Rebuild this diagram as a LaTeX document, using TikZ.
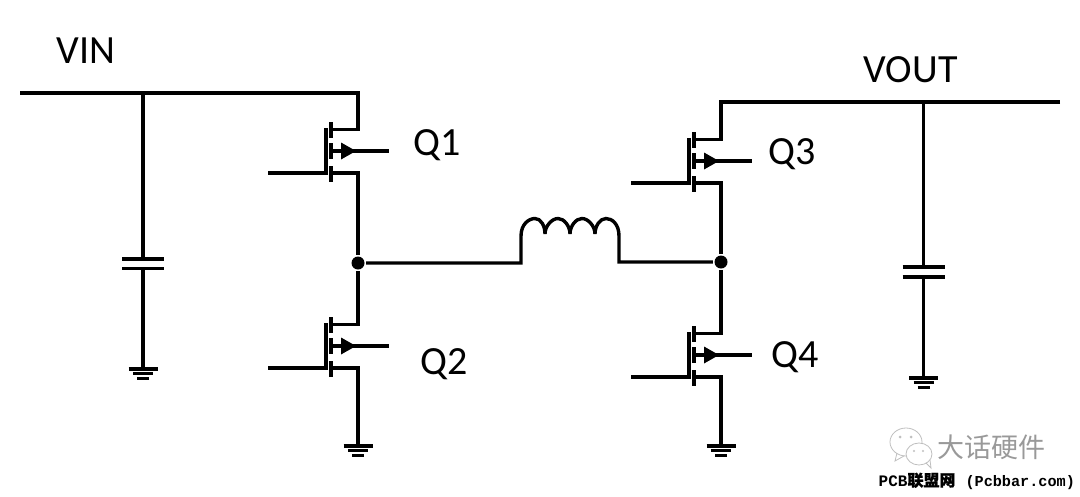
\documentclass[tikz,border=0pt]{standalone}
\usepackage{fontspec}
\setmainfont{Carlito}
\newfontfamily\cjkfont{Noto Sans CJK SC}
\newfontfamily\markfont{Liberation Mono}
\newfontfamily\cjkbold[FakeBold=1]{Noto Sans CJK SC}
\usetikzlibrary{positioning}

\begin{document}
\begin{tikzpicture}[x=1pt,y=-1pt,line width=3.4pt]
    \tikzset{wire/.style = {draw=black,line width=3.4pt}}
    \tikzset{label/.style = {font=\fontsize{40}{40}\selectfont,inner sep=0pt,anchor=west}}
    \tikzset{plate/.style = {draw=black,line width=3.4pt}}
    \tikzset{junction/.style = {shape=circle,fill=black,minimum size=13pt,inner sep=0pt}}
    \tikzset{pics/mosfet/.style = {code = {
        \coordinate (-d) at (0,-21.5);
        \coordinate (-s) at (0,22);
        \coordinate (-g) at (-90,22);
        \coordinate (-b) at (30.5,0);
        \draw[wire] (-32,-23) -- (-32,23.7);
        \draw[wire] (-27,-29) -- (-27,-13);
        \draw[wire] (-27,-8) -- (-27,8);
        \draw[wire] (-27,15) -- (-27,31);
        \draw[wire,line cap=rect] (-27,-21.5) -- (-d);
        \draw[wire,line cap=rect] (-27,22) -- (-s);
        \draw[wire] (-27,0) -- (-b);
        \draw[wire] (-g) -- (-32,22);
        \fill (-17,-8.5) -- (-2,0) -- (-17,8.5) -- cycle;
    }}}
    \tikzset{pics/earth/.style = {code = {
        \coordinate (-t) at (0,0);
        \draw[plate] (-14.5,0) -- (14.5,0);
        \draw[plate] (-10,4.7) -- (10,4.7);
        \draw[plate] (-6,9.3) -- (6,9.3);
    }}}
    \useasboundingbox (0,0) rectangle (1080,496);

    \node[label] (vin) at (55,51) {VIN};
    \node[label] (vout) at (862,70) {VOUT};

    \pic (q1) at (358,151) {mosfet};
    \pic (q2) at (358,346) {mosfet};
    \pic (q3) at (721,161) {mosfet};
    \pic (q4) at (721,355) {mosfet};
    \node[label] (q1name) at (412,145) {Q1};
    \node[label] (q2name) at (419,364) {Q2};
    \node[label] (q3name) at (767,154) {Q3};
    \node[label] (q4name) at (770,357) {Q4};

    \node[junction] (swl) at (358,263) {};
    \node[junction] (swr) at (721,262) {};

    \coordinate (vinl) at (20,93);
    \coordinate (vintap) at (143,93);
    \coordinate (voutl) at (721,102);
    \coordinate (vouttap) at (923.5,102);
    \coordinate (voutr) at (1060,102);

    % input capacitor
    \coordinate (c1a) at (143,259);
    \coordinate (c1b) at (143,268.5);
    \pic (gnd1) at (143,369) {earth};
    \draw[plate] (122,259) -- (164,259);
    \draw[plate] (122,268.5) -- (164,268.5);
    \draw[wire] (vintap) -- (c1a);
    \draw[wire] (c1b) -- (gnd1-t);

    % output capacitor
    \coordinate (c2a) at (923.5,267);
    \coordinate (c2b) at (923.5,277);
    \pic (gnd2) at (923.5,378) {earth};
    \draw[plate] (902.5,267) -- (944.5,267);
    \draw[plate] (902.5,277) -- (944.5,277);
    \draw[wire] (vouttap) -- (c2a);
    \draw[wire] (c2b) -- (gnd2-t);

    \pic (gnd3) at (358,446) {earth};
    \pic (gnd4) at (721,446) {earth};

    \draw[wire] (vinl) -| (q1-d);
    \draw[wire] (q1-s) -- (swl);
    \draw[wire] (swl) -- (q2-d);
    \draw[wire] (q2-s) -- (gnd3-t);
    \draw[wire] (voutr) -- (voutl) -- (q3-d);
    \draw[wire] (q3-s) -- (swr);
    \draw[wire] (swr) -- (q4-d);
    \draw[wire] (q4-s) -- (gnd4-t);

    % inductor
    \coordinate (la) at (521,263);
    \coordinate (lb) at (619,262);
    \draw[wire] (swl) -- (la) -- (521,236)
        .. controls (521,224) and (529,218.5) .. (535,218.5)
        .. controls (541,218.5) and (545,226) .. (545,234)
        .. controls (545,226) and (552,218.5) .. (558,218.5)
        .. controls (564,218.5) and (570,226) .. (570,234)
        .. controls (570,226) and (576,218.5) .. (582,218.5)
        .. controls (588,218.5) and (595,226) .. (595,234)
        .. controls (595,226) and (600,218.5) .. (606,218.5)
        .. controls (612,218.5) and (619,224) .. (619,236)
        -- (lb) -- (swr);

    % watermark
    \begin{scope}[draw=black!25,line width=0.8pt]
        \draw[fill=white] (906,442) ellipse (16 and 14);
        \draw (897,453) -- (895,461) -- (904,456);
        \draw[fill=white] (919,454) ellipse (13 and 11);
        \draw (926,463) -- (931,468) -- (930,460);
        \fill[black!25] (900,437) circle (1.5) (911,437) circle (1.5) (914,451) circle (1.2) (923,451) circle (1.2);
    \end{scope}
    \node[inner sep=0pt,text=black!40] (mark) at (991,447) {\fontsize{27}{27}\cjkfont 大话硬件};
    \node[inner sep=0pt,anchor=west] (site) at (877,481) {\fontsize{16}{16}\markfont\bfseries PCB\cjkbold 联盟网\hspace{10pt}\fontsize{15.2}{16}\markfont\bfseries(Pcbbar.com)};
\end{tikzpicture}
\end{document}
